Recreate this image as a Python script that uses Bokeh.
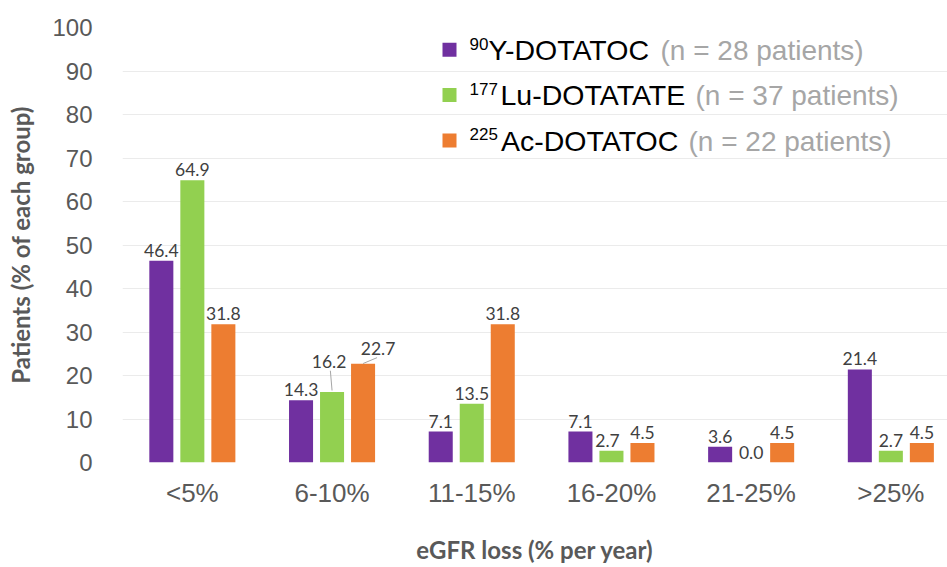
from bokeh.plotting import figure
from bokeh.models import (ColumnDataSource, Range1d, FixedTicker, Label)
from bokeh.core.properties import value
from bokeh.embed import file_html
from bokeh.resources import INLINE

categories = ["<5%", "6-10%", "11-15%", "16-20%", "21-25%", ">25%"]
series_isotopes = ["90", "177", "225"]
series_names = ["Y-DOTATOC", "Lu-DOTATATE", "Ac-DOTATOC"]
series_counts = ["(n = 28 patients)", "(n = 37 patients)", "(n = 22 patients)"]
y90_dotatoc = [46.4, 14.3, 7.1, 7.1, 3.6, 21.4]
lu177_dotatate = [64.9, 16.2, 13.5, 2.7, 0.0, 2.7]
ac225_dotatoc = [31.8, 22.7, 31.8, 4.5, 4.5, 4.5]
y_ticks = [0, 10, 20, 30, 40, 50, 60, 70, 80, 90, 100]

colors = ["#7030A0", "#92D050", "#ED7D31"]
series = [y90_dotatoc, lu177_dotatate, ac225_dotatoc]
offsets = [-0.222, 0.0, 0.222]
bar_w = 0.172

W, H = 947, 567
BL, BR, BT, BB = 122, 0, 27, 105
px_per_cat = 139.7
frame_w = W - BL - BR
frame_h = H - BT - BB

p = figure(width=W, height=H, output_backend="svg", toolbar_location=None,
           x_range=Range1d(-0.5, -0.5 + frame_w / px_per_cat), y_range=Range1d(0, 100),
           min_border_left=BL, min_border_right=BR, min_border_top=BT, min_border_bottom=BB)
p.outline_line_color = None
p.background_fill_color = "white"
# pixel-space ranges used only for placing the legend swatches
p.extra_x_ranges = {"px": Range1d(0, frame_w)}
p.extra_y_ranges = {"px": Range1d(0, frame_h)}

for k, (vals, col, off) in enumerate(zip(series, colors, offsets)):
    xs = [i + off for i in range(len(categories))]
    src = ColumnDataSource(dict(x=xs, top=vals))
    p.vbar(x="x", top="top", width=bar_w, bottom=0, source=src,
           fill_color=col, line_color=None)

# data labels (with per-label pixel nudges for the crowded 6-10% group)
nudges_x = [[0, 0, 0, 0, 0, 0], [0, -3, 0, -4, 0, 0], [0, 15, 0, 0, 0, 0]]
nudges_y = [[0, 0, 0, 0, 0, 0], [0, -20, 0, 0, 0, 0], [0, -5, 0, 0, 0, 0]]
for k, (vals, off) in enumerate(zip(series, offsets)):
    xs = [i + off for i in range(len(categories))]
    src = ColumnDataSource(dict(x=xs, y=vals, t=[f"{v:.1f}" for v in vals],
                                xo=nudges_x[k], yo=[n - 4 for n in nudges_y[k]]))
    p.text(x="x", y="y", text="t", source=src, x_offset="xo", y_offset="yo",
           text_align="center", text_baseline="bottom",
           text_font=value("Lato"), text_font_size="17.5px", text_color="#404040")

# leader lines for the nudged labels
p.segment(x0=[1 + offsets[1]], y0=[lu177_dotatate[1] + 0.35], x1=[1 + offsets[1] - 0.012],
          y1=[lu177_dotatate[1] + 4.9], line_color="#a6a6a6", line_width=1)
p.segment(x0=[1 + offsets[2]], y0=[ac225_dotatoc[1] + 0.05], x1=[1 + offsets[2] + 0.1],
          y1=[ac225_dotatoc[1] + 1.4], line_color="#a6a6a6", line_width=1)

# axes
p.xaxis.ticker = FixedTicker(ticks=list(range(len(categories))))
p.xaxis.major_label_overrides = {i: c for i, c in enumerate(categories)}
p.yaxis.ticker = FixedTicker(ticks=y_ticks)
for ax in (p.xaxis[0], p.yaxis[0]):
    ax.axis_line_color = None
    ax.major_tick_line_color = None
    ax.minor_tick_line_color = None
    ax.major_label_text_font = "Liberation Sans"
    ax.major_label_text_color = "#595959"
    ax.axis_label_text_font = "Lato"
    ax.axis_label_text_font_style = "bold"
    ax.axis_label_text_font_size = "24px"
    ax.axis_label_text_color = "#595959"
p.xaxis.major_label_text_font_size = "26px"
p.yaxis.major_label_text_font_size = "24px"
p.xaxis.major_label_standoff = 9
p.yaxis.major_label_standoff = 24
p.xaxis.axis_label = "eGFR loss (% per year)"
p.yaxis.axis_label = "Patients (% of each group)"
p.xaxis.axis_label_standoff = 24
p.yaxis.axis_label_standoff = 14

p.xgrid.grid_line_color = None
p.ygrid.grid_line_color = "#ebebeb"
p.ygrid.grid_line_width = 1
p.ygrid.ticker = FixedTicker(ticks=y_ticks)

# legend (built from parts so the isotope numbers can be superscripts and counts grey)
sw_x, row_base = 327, [402.7, 357.4, 312.0]
iso_x = [347, 347, 347]
name_x = [366, 378, 378.5]
count_x = [538, 573, 566]
p.scatter(x=[sw_x] * 3, y=[b + 10 for b in row_base], marker="square", size=14,
          fill_color=colors, line_color=None, x_range_name="px", y_range_name="px")
for k in range(3):
    p.add_layout(Label(x=iso_x[k], y=row_base[k] + 16.3, x_units="screen", y_units="screen",
                       text=series_isotopes[k], text_font="Liberation Sans", text_font_size="17px",
                       text_color="black", text_baseline="alphabetic"))
    p.add_layout(Label(x=name_x[k], y=row_base[k] + 10, x_units="screen", y_units="screen",
                       text=series_names[k], text_font="Liberation Sans", text_font_size="28.5px",
                       text_color="black", text_baseline="alphabetic"))
    p.add_layout(Label(x=count_x[k], y=row_base[k] + 9.5, x_units="screen", y_units="screen",
                       text=series_counts[k], text_font="Liberation Sans", text_font_size="28px",
                       text_color="#a6a6a6", text_baseline="alphabetic"))

open("out.html", "w").write(file_html(p, INLINE))
